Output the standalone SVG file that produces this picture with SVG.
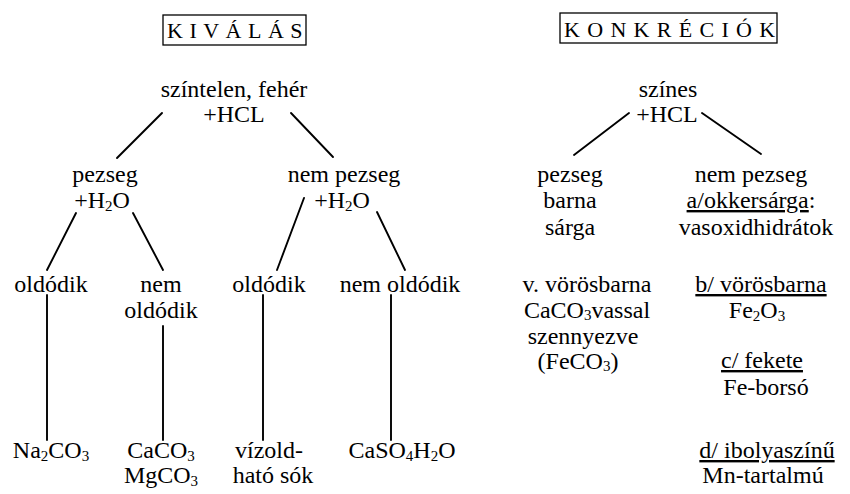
<svg xmlns="http://www.w3.org/2000/svg" width="850" height="494" viewBox="0 0 850 494">
<style>
text{font-family:"Liberation Serif","Times New Roman",serif;font-size:24px;fill:#000;text-anchor:middle}
.title{font-size:22px;text-anchor:start}
.box{fill:none;stroke:#000;stroke-width:1.3}
.c line{stroke:#000;stroke-width:1.9;stroke-linecap:round}
.u{text-decoration:underline}
.s{font-size:15px}
</style>
<rect width="850" height="494" fill="#fff"/>
<g id="title-kivalas">
<rect class="box" x="163" y="15" width="143" height="30"/>
<text class="title" x="167" y="38" letter-spacing="6.5">KIVÁLÁS</text>
</g>
<g id="title-konkreciok">
<rect class="box" x="560" y="13" width="217" height="30"/>
<text class="title" x="564" y="37" letter-spacing="7.3">KONKRÉCIÓK</text>
</g>
<g id="n-szintelen">
<text x="234" y="97">színtelen, fehér</text>
<text x="234" y="122">+HCL</text>
</g>
<g id="n-szines">
<text x="668" y="97">színes</text>
<text x="667" y="122">+HCL</text>
</g>
<g id="n-pezseg1">
<text x="105" y="182">pezseg</text>
<text x="102" y="208">+H<tspan class="s" dy="3">2</tspan><tspan dy="-3">O</tspan></text>
</g>
<g id="n-nempezseg1">
<text x="344" y="182">nem pezseg</text>
<text x="342" y="208">+H<tspan class="s" dy="3">2</tspan><tspan dy="-3">O</tspan></text>
</g>
<g id="n-oldodik1"><text x="51" y="292">oldódik</text></g>
<g id="n-nemoldodik1"><text x="161" y="292">nem</text><text x="161" y="318">oldódik</text></g>
<g id="n-oldodik2"><text x="269" y="292">oldódik</text></g>
<g id="n-nemoldodik2"><text x="400" y="292">nem oldódik</text></g>
<g id="n-na2co3"><text x="51" y="458">Na<tspan class="s" dy="3">2</tspan><tspan dy="-3">CO</tspan><tspan class="s" dy="3">3</tspan></text></g>
<g id="n-caco3"><text x="161" y="458">CaCO<tspan class="s" dy="3">3</tspan></text><text x="161" y="483">MgCO<tspan class="s" dy="3">3</tspan></text></g>
<g id="n-vizold"><text x="269" y="458">vízold-</text><text x="273" y="483">ható sók</text></g>
<g id="n-caso4"><text x="402" y="458">CaSO<tspan class="s" dy="3">4</tspan><tspan dy="-3">H</tspan><tspan class="s" dy="3">2</tspan><tspan dy="-3">O</tspan></text></g>
<g id="n-pezseg2">
<text x="570" y="182">pezseg</text>
<text x="570" y="208">barna</text>
<text x="570" y="235">sárga</text>
</g>
<g id="n-nempezseg2">
<text x="751" y="182">nem pezseg</text>
<text x="751" y="208"><tspan class="u">a/okkersárga</tspan>:</text>
<text x="756" y="235">vasoxidhidrátok</text>
</g>
<g id="n-vorosbarna">
<text x="587" y="292">v. vörösbarna</text>
<text x="587" y="318">CaCO<tspan class="s" dy="2">3</tspan><tspan dy="-2">vassal</tspan></text>
<text x="583" y="344">szennyezve</text>
<text x="578" y="369">(FeCO<tspan class="s" dy="2">3</tspan><tspan dy="-2">)</tspan></text>
</g>
<g id="n-b">
<text x="761" y="292" class="u">b/ vörösbarna</text>
<text x="757" y="318">Fe<tspan class="s" dy="3">2</tspan><tspan dy="-3">O</tspan><tspan class="s" dy="3">3</tspan></text>
</g>
<g id="n-c">
<text x="762" y="368" class="u">c/ fekete</text>
<text x="766" y="395">Fe-borsó</text>
</g>
<g id="n-d">
<text x="767" y="458" class="u">d/ ibolyaszínű</text>
<text x="763" y="483">Mn-tartalmú</text>
</g>
<g id="connectors" class="c">
<line x1="162" y1="113" x2="117" y2="158"/>
<line x1="291" y1="113" x2="333" y2="157"/>
<line x1="76" y1="213" x2="47" y2="270"/>
<line x1="133" y1="213" x2="163" y2="270"/>
<line x1="304" y1="198" x2="277" y2="270"/>
<line x1="377" y1="212" x2="405" y2="270"/>
<line x1="47" y1="295" x2="47" y2="440"/>
<line x1="163" y1="326" x2="163" y2="440"/>
<line x1="263" y1="295" x2="263" y2="440"/>
<line x1="391" y1="295" x2="391" y2="440"/>
<line x1="629" y1="113" x2="574" y2="155"/>
<line x1="702" y1="113" x2="761" y2="154"/>
</g>
</svg>
